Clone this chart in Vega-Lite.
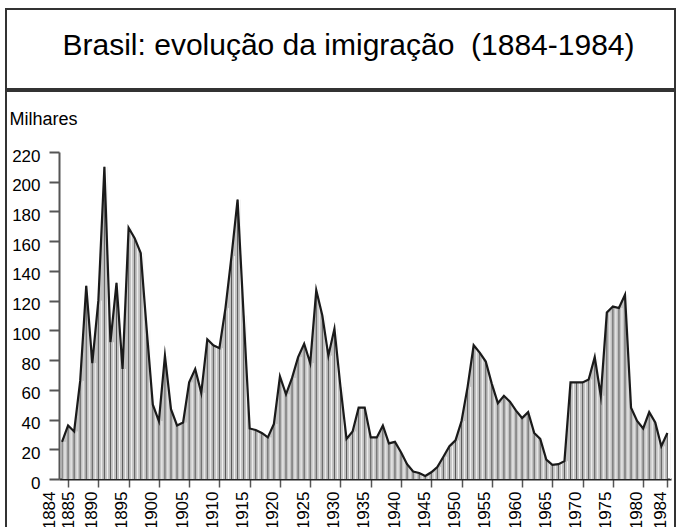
{
  "$schema": "https://vega.github.io/schema/vega-lite/v6.json",
  "padding": {"left": 5, "top": 8, "right": 0, "bottom": 0},
  "background": "white",
  "spacing": 0,
  "config": {
    "view": {"stroke": "#333333", "strokeWidth": 2},
    "font": "Liberation Sans"
  },
  "vconcat": [
    {
      "width": 669,
      "height": 80,
      "view": {"stroke": "#333333", "strokeWidth": 2},
      "data": {"values": [{"t": "Brasil: evolução da imigração \u00a0(1884-1984)", "px": 0.5, "py": 0.5}]},
      "mark": {"type": "text", "fontSize": 30, "font": "Liberation Sans", "color": "black", "dx": 8, "dy": -3},
      "encoding": {
        "text": {"field": "t", "type": "nominal"},
        "x": {"field": "px", "type": "quantitative", "scale": {"domain": [0, 1]}, "axis": null},
        "y": {"field": "py", "type": "quantitative", "scale": {"domain": [0, 1]}, "axis": null}
      }
    },
    {
      "width": 669,
      "height": 442,
      "data": {"values": [
        {"ano": 1884, "milhares": 25}, {"ano": 1885, "milhares": 36}, {"ano": 1886, "milhares": 32},
        {"ano": 1887, "milhares": 66}, {"ano": 1888, "milhares": 130}, {"ano": 1889, "milhares": 78},
        {"ano": 1890, "milhares": 120}, {"ano": 1891, "milhares": 210}, {"ano": 1892, "milhares": 92},
        {"ano": 1893, "milhares": 132}, {"ano": 1894, "milhares": 74}, {"ano": 1895, "milhares": 169},
        {"ano": 1896, "milhares": 162}, {"ano": 1897, "milhares": 152}, {"ano": 1898, "milhares": 100},
        {"ano": 1899, "milhares": 50}, {"ano": 1900, "milhares": 39}, {"ano": 1901, "milhares": 83},
        {"ano": 1902, "milhares": 47}, {"ano": 1903, "milhares": 36}, {"ano": 1904, "milhares": 38},
        {"ano": 1905, "milhares": 65}, {"ano": 1906, "milhares": 74}, {"ano": 1907, "milhares": 58},
        {"ano": 1908, "milhares": 94}, {"ano": 1909, "milhares": 90}, {"ano": 1910, "milhares": 88},
        {"ano": 1911, "milhares": 115}, {"ano": 1912, "milhares": 150}, {"ano": 1913, "milhares": 188},
        {"ano": 1914, "milhares": 110}, {"ano": 1915, "milhares": 34}, {"ano": 1916, "milhares": 33},
        {"ano": 1917, "milhares": 31}, {"ano": 1918, "milhares": 28}, {"ano": 1919, "milhares": 37},
        {"ano": 1920, "milhares": 69}, {"ano": 1921, "milhares": 57}, {"ano": 1922, "milhares": 68},
        {"ano": 1923, "milhares": 82}, {"ano": 1924, "milhares": 91}, {"ano": 1925, "milhares": 78},
        {"ano": 1926, "milhares": 127}, {"ano": 1927, "milhares": 110}, {"ano": 1928, "milhares": 83},
        {"ano": 1929, "milhares": 101}, {"ano": 1930, "milhares": 62}, {"ano": 1931, "milhares": 27},
        {"ano": 1932, "milhares": 32}, {"ano": 1933, "milhares": 48}, {"ano": 1934, "milhares": 48},
        {"ano": 1935, "milhares": 28}, {"ano": 1936, "milhares": 28}, {"ano": 1937, "milhares": 36},
        {"ano": 1938, "milhares": 24}, {"ano": 1939, "milhares": 25}, {"ano": 1940, "milhares": 18},
        {"ano": 1941, "milhares": 10}, {"ano": 1942, "milhares": 5}, {"ano": 1943, "milhares": 4},
        {"ano": 1944, "milhares": 2}, {"ano": 1945, "milhares": 4.5}, {"ano": 1946, "milhares": 8},
        {"ano": 1947, "milhares": 15}, {"ano": 1948, "milhares": 22}, {"ano": 1949, "milhares": 26},
        {"ano": 1950, "milhares": 39}, {"ano": 1951, "milhares": 62}, {"ano": 1952, "milhares": 90},
        {"ano": 1953, "milhares": 85}, {"ano": 1954, "milhares": 79}, {"ano": 1955, "milhares": 64},
        {"ano": 1956, "milhares": 51}, {"ano": 1957, "milhares": 56}, {"ano": 1958, "milhares": 52},
        {"ano": 1959, "milhares": 46}, {"ano": 1960, "milhares": 41}, {"ano": 1961, "milhares": 45},
        {"ano": 1962, "milhares": 31}, {"ano": 1963, "milhares": 27}, {"ano": 1964, "milhares": 13},
        {"ano": 1965, "milhares": 9.5}, {"ano": 1966, "milhares": 10}, {"ano": 1967, "milhares": 12},
        {"ano": 1968, "milhares": 65}, {"ano": 1969, "milhares": 65}, {"ano": 1970, "milhares": 65},
        {"ano": 1971, "milhares": 67}, {"ano": 1972, "milhares": 82}, {"ano": 1973, "milhares": 56},
        {"ano": 1974, "milhares": 112}, {"ano": 1975, "milhares": 116}, {"ano": 1976, "milhares": 115},
        {"ano": 1977, "milhares": 124}, {"ano": 1978, "milhares": 48}, {"ano": 1979, "milhares": 39},
        {"ano": 1980, "milhares": 34}, {"ano": 1981, "milhares": 45}, {"ano": 1982, "milhares": 38},
        {"ano": 1983, "milhares": 22}, {"ano": 1984, "milhares": 31}
      ]},
      "encoding": {
        "x": {
          "field": "ano", "type": "quantitative",
          "scale": {"domain": [1883.5, 1984.6], "range": [53, 665], "nice": false, "zero": false},
          "axis": {
            "values": [1884, 1885, 1890, 1895, 1900, 1905, 1910, 1915, 1920, 1925, 1930, 1935, 1940, 1945, 1950, 1955, 1960, 1965, 1970, 1975, 1980, 1984],
            "format": "d",
            "offset": -54,
            "title": null,
            "grid": false,
            "labelAngle": -90,
            "labelAlign": "right",
            "labelBaseline": "alphabetic",
            "labelOffset": {"condition": [{"test": "datum.value == 1884", "value": -8}, {"test": "datum.value == 1885", "value": 5}], "value": -2},
            "labelFontSize": 17,
            "labelFont": "Liberation Sans",
            "labelColor": "black",
            "labelPadding": 4,
            "labelOverlap": false,
            "labelFlush": false,
            "labelBound": false,
            "tickSize": 8,
            "tickWidth": 1.5,
            "tickColor": "#555555",
            "tickOpacity": {"condition": {"test": "datum.value == 1884", "value": 0}, "value": 1},
            "domainColor": "#222222",
            "domainWidth": 2
          }
        },
        "y": {
          "field": "milhares", "type": "quantitative",
          "scale": {"domain": [0, 220], "range": [388, 61], "nice": false, "zero": true},
          "axis": {
            "values": [0, 20, 40, 60, 80, 100, 120, 140, 160, 180, 200, 220],
            "offset": -53,
            "grid": false,
            "title": "Milhares",
            "titleAngle": 0,
            "titleAlign": "left",
            "titleBaseline": "middle",
            "titleX": -50,
            "titleY": 28,
            "titleFontSize": 18,
            "titleFontWeight": "normal",
            "titleFont": "Liberation Sans",
            "titleColor": "black",
            "labelFontSize": 17,
            "labelFont": "Liberation Sans",
            "labelColor": "black",
            "labelPadding": 9,
            "labelOffset": 4,
            "tickSize": 10,
            "tickWidth": 2,
            "tickColor": "#555555",
            "domainColor": "#555555",
            "domainWidth": 2
          }
        }
      },
      "layer": [
        {"mark": {"type": "area", "color": "#c2c2c2", "interpolate": "linear"}},
        {
          "mark": {"type": "rule", "color": "#5a5a5a", "strokeWidth": 1},
          "encoding": {"y2": {"datum": 0}}
        },
        {
          "mark": {"type": "rule", "color": "#f4f4f4", "strokeWidth": 1, "xOffset": 3},
          "encoding": {"y2": {"datum": 0}}
        },
        {"mark": {"type": "line", "color": "#1a1a1a", "strokeWidth": 2.2, "strokeJoin": "miter", "strokeMiterLimit": 10}}
      ]
    }
  ]
}
